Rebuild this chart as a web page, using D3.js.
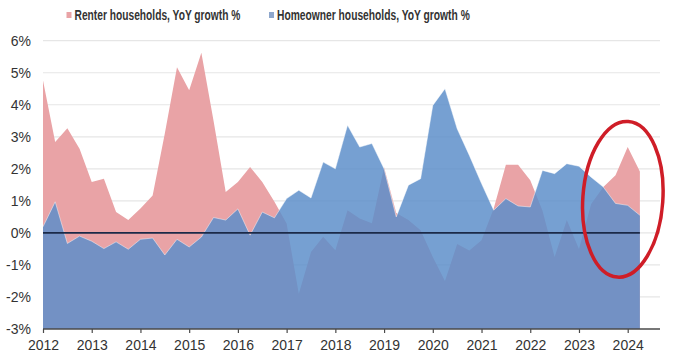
<!DOCTYPE html>
<html>
<head>
<meta charset="utf-8">
<script src="https://cdn.jsdelivr.net/npm/d3@7/dist/d3.min.js"></script>
<style>
  html, body { margin: 0; padding: 0; background: #fff; }
  svg { display: block; }
</style>
</head>
<body>
<svg id="chart" width="673" height="356"></svg>
<script>
// Quarterly observations, 2012 Q1 through 2024 Q2
const quarters = d3.range(50).map(i => 2012 + i * 0.25);

// Renter households, YoY growth %
const renterGrowth = [
  4.76, 2.84, 3.27, 2.63, 1.59, 1.69, 0.65, 0.40, 0.76, 1.17,
  3.10, 5.17, 4.45, 5.62, 3.50, 1.28, 1.59, 2.06, 1.59, 0.97,
  0.29, -1.90, -0.60, -0.12, -0.54, 0.71, 0.45, 0.30, 2.05, 0.62,
  0.40, 0.08, -0.75, -1.50, -0.35, -0.55, -0.23, 0.76, 2.13, 2.13,
  1.64, 0.70, -0.75, 0.40, -0.50, 0.90, 1.43, 1.80, 2.68, 1.92
];

// Homeowner households, YoY growth %
const ownerGrowth = [
  0.19, 0.97, -0.33, -0.10, -0.26, -0.49, -0.28, -0.51, -0.20, -0.16,
  -0.69, -0.20, -0.44, -0.13, 0.48, 0.40, 0.75, -0.07, 0.65, 0.47,
  1.07, 1.33, 1.09, 2.21, 2.00, 3.36, 2.68, 2.79, 2.00, 0.50,
  1.49, 1.69, 3.98, 4.50, 3.25, 2.42, 1.54, 0.71, 1.07, 0.84,
  0.81, 1.95, 1.85, 2.16, 2.08, 1.74, 1.43, 0.92, 0.86, 0.55
];

const yearTicks = d3.range(2012, 2025);
const pctTicks = d3.range(-3, 7);
const legendItems = [
  { label: "Renter households, YoY growth %", color: "#e9a3a6", x: 66.5, width: 166 },
  { label: "Homeowner households, YoY growth %", color: "#8ea7cc", x: 269, width: 193 }
];

const svg = d3.select("#chart");
const x = d3.scaleLinear().domain([2012, 2024]).range([43, 627.7]);
const y = d3.scaleLinear().domain([-3, 6]).range([329, 40.7]);
const gridRight = 660;
const labelFont = "'Liberation Sans', Arial, sans-serif";

// horizontal gridlines
svg.append("g")
  .selectAll("line")
  .data(pctTicks.filter(v => v > -3))
  .join("line")
  .attr("x1", x(2012)).attr("x2", gridRight)
  .attr("y1", d => y(d)).attr("y2", d => y(d))
  .attr("stroke", "#e6e6e6").attr("stroke-width", 1.2);

const rows = quarters.map((q, i) => ({ q, r: renterGrowth[i], o: ownerGrowth[i] }));

// renter area, filled up from the bottom of the axis
svg.append("path")
  .datum(rows)
  .attr("fill", "#e9a3a6")
  .attr("d", d3.area().x(d => x(d.q)).y0(y(-3)).y1(d => y(d.r)));

// homeowner area, translucent so the renter series shows through
svg.append("path")
  .datum(rows)
  .attr("fill", "rgb(92,142,201)")
  .attr("fill-opacity", 0.84)
  .attr("d", d3.area().x(d => x(d.q)).y0(y(-3)).y1(d => y(d.o)));

svg.append("path")
  .datum(rows)
  .attr("fill", "none")
  .attr("stroke", "#ffffff")
  .attr("stroke-opacity", 0.45)
  .attr("stroke-width", 1)
  .attr("d", d3.line().x(d => x(d.q)).y(d => y(d.o)));

// zero line
svg.append("line")
  .attr("x1", x(2012)).attr("x2", x(quarters[quarters.length - 1]))
  .attr("y1", y(0)).attr("y2", y(0))
  .attr("stroke", "#1b2a48").attr("stroke-width", 1.6);

// x axis
const xAxis = svg.append("g")
  .attr("transform", `translate(0,${y(-3)})`)
  .call(d3.axisBottom(x).tickValues(yearTicks).tickFormat(d3.format("d")).tickSize(4).tickSizeOuter(0));
xAxis.select(".domain").remove();
xAxis.append("line")
  .attr("x1", x(2012)).attr("x2", gridRight)
  .attr("stroke", "#4a4a4a").attr("stroke-width", 1.5);
xAxis.selectAll(".tick line").attr("stroke", "#4a4a4a").attr("stroke-width", 1.2);
xAxis.selectAll(".tick text")
  .attr("y", 11)
  .attr("font-family", labelFont).attr("font-size", 14).attr("fill", "#333");

// y axis labels
const yAxis = svg.append("g")
  .attr("transform", "translate(31,0)")
  .call(d3.axisLeft(y).tickValues(pctTicks).tickFormat(d => d + "%").tickSize(0));
yAxis.select(".domain").remove();
yAxis.selectAll(".tick text")
  .attr("x", 0)
  .attr("font-family", labelFont).attr("font-size", 14).attr("fill", "#333");

// legend: bold labels squeezed horizontally into a condensed look
const legend = svg.append("g").selectAll("g")
  .data(legendItems)
  .join("g")
  .attr("transform", d => `translate(${d.x},15)`);
legend.append("rect")
  .attr("x", 0).attr("y", -3).attr("width", 5).attr("height", 6)
  .attr("fill", d => d.color);
legend.append("text")
  .attr("dy", "0.36em")
  .attr("font-family", labelFont)
  .attr("font-weight", "bold").attr("font-size", 14).attr("fill", "#333")
  .text(d => d.label)
  .attr("transform", function(d) {
    const k = d.width / this.getComputedTextLength();
    return `translate(8,0) scale(${k},1)`;
  });

// highlight ring around the latest readings
const ringCx = x(2023.9), ringCy = y(1.05);
svg.append("ellipse")
  .attr("cx", 0).attr("cy", 0).attr("rx", 40).attr("ry", 78)
  .attr("transform", `translate(${ringCx},${ringCy}) rotate(4)`)
  .attr("fill", "none")
  .attr("stroke", "#cf1d27").attr("stroke-width", 3.5);
</script>
</body>
</html>
